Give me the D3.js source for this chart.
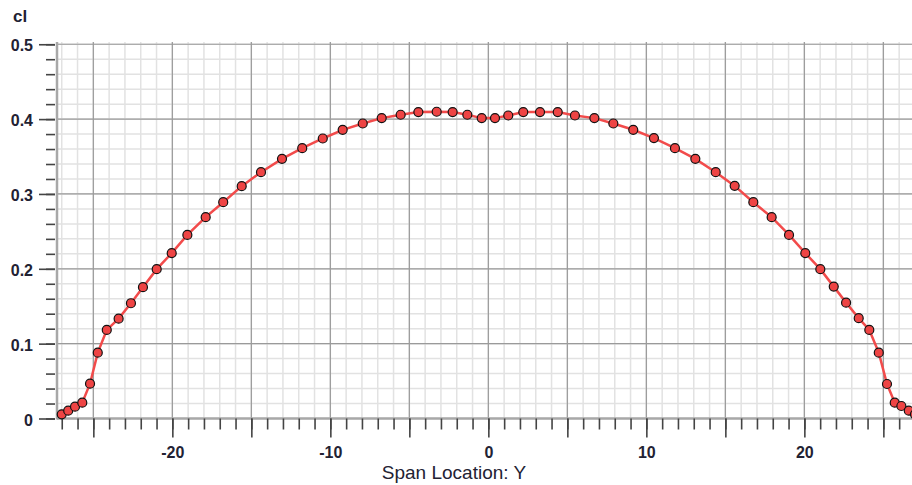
<!DOCTYPE html>
<html lang="en">
    <head>
        <meta charset="utf-8">
        <title>cl vs Span Location</title>
        <style>
            body{
                margin:0;
                background:white;
            }
            svg text{
                font-family:"Liberation Sans", Arial, sans-serif;
                fill:#222233;
            }
        </style>
    </head>
    <body>
        <svg id="chart" width="912" height="485"></svg>

        <script src="https://d3js.org/d3.v7.min.js"></script>
        <script>
            // span stations (left half then right half)
            const spanY = [
                -27.00,-26.59,-26.16,-25.70,-25.21,-24.72,-24.15,-23.40,-22.62,-21.86,
                -20.99,-20.04,-19.05,-17.89,-16.78,-15.61,-14.39,-13.06,-11.78,-10.48,
                -9.22,-7.95,-6.75,-5.55,-4.43,-3.27,-2.26,-1.33,-0.42,
                0.42,1.26,2.21,3.27,4.39,5.48,6.71,7.91,9.17,10.48,
                11.81,13.10,14.39,15.59,16.77,17.93,19.03,20.06,21.01,21.86,
                22.64,23.44,24.11,24.71,25.23,25.72,26.14,26.61,27.00
            ]
            const clValues = [
                0.0056,0.0104,0.0158,0.0211,0.0465,0.0880,0.1183,0.1334,0.1540,0.1754,
                0.1995,0.2209,0.2453,0.2690,0.2890,0.3104,0.3291,0.3469,0.3612,0.3741,
                0.3857,0.3941,0.4013,0.4058,0.4094,0.4098,0.4094,0.4058,0.4013,
                0.4013,0.4048,0.4094,0.4094,0.4094,0.4048,0.4013,0.3941,0.3857,0.3746,
                0.3612,0.3469,0.3291,0.3108,0.2890,0.2690,0.2453,0.2209,0.1995,0.1762,
                0.1548,0.1340,0.1183,0.0880,0.0461,0.0211,0.0167,0.0104,0.0056
            ]
            const xMinorTicks = d3.range(-27, 28, 1)
            const xMajorTicks = [-25,-20,-15,-10,-5,0,5,10,15,20,25]
            const xLabelTicks = [-20,-10,0,10,20]
            const yMinorTicks = [0,0.02,0.04,0.06,0.08,0.1,0.12,0.14,0.16,0.18,0.2,0.22,0.24,0.26,0.28,0.3,0.32,0.34,0.36,0.38,0.4,0.42,0.44,0.46,0.48,0.5]
            const yMajorTicks = [0,0.1,0.2,0.3,0.4,0.5]
            const yLabels = ["0","0.1","0.2","0.3","0.4","0.5"]

            const data = spanY.map((s,i)=>({s:s, cl:clValues[i]}))

            const plotLeft = 57, plotBottom = 418.5, plotTop = 42
            const xScale = d3.scaleLinear()
                            .domain([-27.3, 27.3])
                            .range([plotLeft, 919.7])
            const yScale = d3.scaleLinear()
                            .domain([0, 0.503])
                            .range([plotBottom, plotTop])

            const svg = d3.select("#chart")

            //grid - light
            svg.append("g").selectAll("line")
                .data(xMinorTicks)
                .enter()
                .append("line")
                .attr("x1",d=>xScale(d)).attr("x2",d=>xScale(d))
                .attr("y1",plotTop).attr("y2",plotBottom)
                .attr("stroke","#e2e2e2").attr("stroke-width",1.5)
            svg.append("g").selectAll("line")
                .data(yMinorTicks)
                .enter()
                .append("line")
                .attr("x1",plotLeft).attr("x2",912)
                .attr("y1",d=>yScale(d)).attr("y2",d=>yScale(d))
                .attr("stroke","#e2e2e2").attr("stroke-width",1.5)

            //grid - dark
            svg.append("g").selectAll("line")
                .data(xMajorTicks)
                .enter()
                .append("line")
                .attr("x1",d=>xScale(d)).attr("x2",d=>xScale(d))
                .attr("y1",plotTop).attr("y2",plotBottom)
                .attr("stroke","#9a9a9a").attr("stroke-width",1.2)
            svg.append("g").selectAll("line")
                .data(yMajorTicks)
                .enter()
                .append("line")
                .attr("x1",plotLeft).attr("x2",912)
                .attr("y1",d=>yScale(d)).attr("y2",d=>yScale(d))
                .attr("stroke","#9a9a9a").attr("stroke-width",1.2)

            //axis lines
            svg.append("line")
                .attr("x1",plotLeft).attr("x2",plotLeft)
                .attr("y1",plotTop).attr("y2",plotBottom+1)
                .attr("stroke","#a8a8a8").attr("stroke-width",2.5)
            svg.append("line")
                .attr("x1",plotLeft).attr("x2",912)
                .attr("y1",plotBottom).attr("y2",plotBottom)
                .attr("stroke","#a8a8a8").attr("stroke-width",2.5)

            //x ticks
            const xMinorAxis = d3.axisBottom(xScale).tickValues(xMinorTicks).tickSize(11).tickFormat("")
            const xMajorAxis = d3.axisBottom(xScale).tickValues(xMajorTicks).tickSize(19)
                                .tickFormat(d=> xLabelTicks.includes(d) ? d : "")
            svg.append("g").attr("transform",`translate(0,${plotBottom})`).call(xMinorAxis)
            const xg = svg.append("g").attr("transform",`translate(0,${plotBottom})`).call(xMajorAxis)
            svg.selectAll(".domain").remove()
            xg.selectAll("text")
                .attr("y",39).attr("dy",0)
                .style("font-size","16px").style("font-weight","bold")
                .style("fill","#222233")

            //y ticks
            const yMinorAxis = d3.axisLeft(yScale).tickValues(yMinorTicks).tickSize(9).tickFormat("")
            const yMajorAxis = d3.axisLeft(yScale).tickValues(yMajorTicks).tickSize(16)
                                .tickFormat((d,i)=>yLabels[i])
            const yg1 = svg.append("g").attr("transform","translate(55,0)").call(yMinorAxis)
            const yg = svg.append("g").attr("transform","translate(55,0)").call(yMajorAxis)
            yg1.select(".domain").remove()
            yg.select(".domain").remove()
            svg.selectAll(".tick line").attr("stroke","#444").attr("stroke-width",1.6)
            yg.selectAll("text")
                .attr("x",-22).attr("dy","0.42em")
                .style("font-size","16px").style("font-weight","bold")
                .style("fill","#222233")

            //line
            const line = d3.line()
                            .x(d=>xScale(d.s))
                            .y(d=>yScale(d.cl))
            svg.append("path")
                .datum(data)
                .attr("d",line)
                .attr("fill","none")
                .attr("stroke","#f24b4b")
                .attr("stroke-width",2.5)

            //points
            svg.append("g").selectAll("circle")
                .data(data)
                .enter()
                .append("circle")
                .attr("cx",d=>xScale(d.s))
                .attr("cy",d=>yScale(d.cl))
                .attr("r",4.5)
                .attr("fill","#ee4444")
                .attr("stroke","#111")
                .attr("stroke-width",1.2)

            //labels
            svg.append("text")
                .attr("x",13).attr("y",22)
                .style("font-size","17px").style("font-weight","bold")
                .text("cl")
            svg.append("text")
                .attr("x",454).attr("y",479)
                .attr("text-anchor","middle")
                .style("font-size","19px")
                .text("Span Location: Y")
        </script>
    </body>
</html>
